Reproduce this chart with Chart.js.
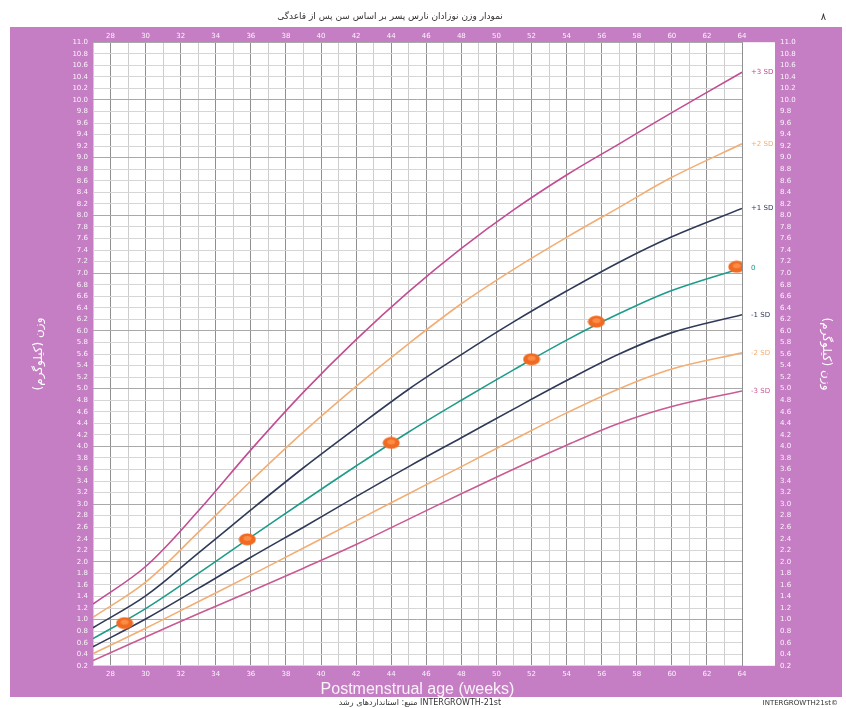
<!DOCTYPE html>
<html>
<head>
<meta charset="utf-8">
<script src="https://cdn.jsdelivr.net/npm/chart.js@4.4.1/dist/chart.umd.min.js"></script>
<style>
  html, body { margin: 0; padding: 0; background: #ffffff; }
  canvas { display: block; }
</style>
</head>
<body>
<canvas id="c" width="846" height="708"></canvas>
<script>
// ---- data (weeks of postmenstrual age, weight in kg) ----
const weeks     = [27, 30, 33, 36, 39, 42, 45, 48, 51, 54, 57, 60, 64];
const sdPlus3   = [1.27, 1.92, 2.88, 3.94, 4.94, 5.85, 6.68, 7.43, 8.10, 8.70, 9.24, 9.78, 10.48];
const sdPlus2   = [1.04, 1.65, 2.51, 3.40, 4.25, 5.04, 5.78, 6.47, 7.07, 7.62, 8.14, 8.66, 9.24];
const sdPlus1   = [0.86, 1.41, 2.15, 2.90, 3.63, 4.32, 4.99, 5.59, 6.16, 6.69, 7.19, 7.63, 8.12];
const sdZero    = [0.67, 1.19, 1.80, 2.43, 3.05, 3.66, 4.25, 4.80, 5.33, 5.84, 6.30, 6.70, 7.09];
const sdMinus1  = [0.53, 1.01, 1.54, 2.08, 2.60, 3.13, 3.65, 4.15, 4.65, 5.14, 5.60, 5.97, 6.28];
const sdMinus2  = [0.41, 0.85, 1.31, 1.77, 2.24, 2.71, 3.18, 3.65, 4.12, 4.58, 5.00, 5.34, 5.62];
const sdMinus3  = [0.29, 0.70, 1.10, 1.49, 1.89, 2.30, 2.74, 3.18, 3.61, 4.02, 4.40, 4.69, 4.96];
const curveLabels = ['+3 SD', '+2 SD', '+1 SD', '0', '-1 SD', '-2 SD', '-3 SD'];
const visitWeeks   = [28.8, 35.8, 44, 52, 55.7, 63.7];
const visitWeights = [0.94, 2.39, 4.06, 5.51, 6.16, 7.11];
const xTickLabelWeeks = [28, 30, 32, 34, 36, 38, 40, 42, 44, 46, 48, 50, 52, 54, 56, 58, 60, 62, 64];

const titleText  = 'نمودار وزن نوزادان نارس پسر بر اساس سن پس از قاعدگی';
const yTitleText = 'وزن (کیلوگرم)';
const xTitleText = 'Postmenstrual age (weeks)';
const footerText = 'منبع: استانداردهای رشد INTERGROWTH-21st';
const footerCode = 'INTERGROWTH21st©';
const pageNum    = '۸';

// ---- styling ----
const PURPLE = '#c57dc4';
const pairs = (ys) => weeks.map((w, i) => ({ x: w, y: ys[i] }));
const curveColors = ['#c24d93', '#f2ae74', '#2f3a58', '#1f9b8a', '#2f3a58', '#f2ae74', '#c95a93'];
const curveData = [sdPlus3, sdPlus2, sdPlus1, sdZero, sdMinus1, sdMinus2, sdMinus3];

// ellipse point marker
const dot = document.createElement('canvas');
dot.width = 18; dot.height = 13;
(function(){
  const g = dot.getContext('2d');
  g.fillStyle = '#f06a22';
  g.beginPath(); g.ellipse(9, 6.5, 8.5, 6, 0, 0, Math.PI * 2); g.fill();
  g.fillStyle = 'rgba(255,150,80,0.8)';
  g.beginPath(); g.ellipse(9, 5.5, 4, 2.5, 0, 0, Math.PI * 2); g.fill();
})();

const datasets = [{
  label: 'visits',
  data: visitWeeks.map((w, i) => ({ x: w, y: visitWeights[i] })),
  showLine: false,
  pointStyle: dot,
  pointRadius: 7,
  order: 0
}];
curveData.forEach((arr, i) => {
  datasets.push({
    label: curveLabels[i],
    data: pairs(arr),
    showLine: true,
    borderColor: curveColors[i],
    backgroundColor: curveColors[i],
    borderWidth: 1.6,
    pointRadius: 0,
    pointHoverRadius: 0,
    tension: 0.35,
    fill: false,
    order: 1,
    isCurve: true
  });
});

const frame = {
  id: 'frame',
  beforeDraw(chart) {
    const c = chart.ctx, a = chart.chartArea;
    c.save();
    c.fillStyle = '#ffffff';
    c.fillRect(0, 0, chart.width, chart.height);
    c.fillStyle = PURPLE;
    c.fillRect(10, 27, 832, 670);
    c.fillStyle = '#ffffff';
    c.fillRect(a.left, a.top, 775 - a.left, a.bottom - a.top);
    // header / footer texts
    c.fillStyle = '#333333';
    c.textBaseline = 'middle';
    c.textAlign = 'center';
    c.font = '9px "DejaVu Sans"';
    c.fillText(titleText, 390, 17);
    c.textAlign = 'right';
    c.font = '10px "DejaVu Sans"';
    c.fillText(pageNum, 826, 17);
    c.textAlign = 'center';
    c.font = '8px "DejaVu Sans"';
    c.fillText(footerText, 420, 703);
    c.textAlign = 'right';
    c.font = '7px "DejaVu Sans"';
    c.fillText(footerCode, 838, 703);
    c.restore();
  },
  afterDatasetsDraw(chart) {
    const c = chart.ctx;
    c.save();
    c.font = '7px "DejaVu Sans"';
    c.textAlign = 'left';
    c.textBaseline = 'middle';
    chart.data.datasets.forEach((ds, i) => {
      if (!ds.isCurve) return;
      const pts = chart.getDatasetMeta(i).data;
      const p = pts[pts.length - 1];
      c.fillStyle = ds.borderColor;
      c.fillText(ds.label, p.x + 9, p.y);
    });
    c.restore();
  }
};

const tickFont = { family: '"DejaVu Sans", sans-serif', size: 7 };
const tickColor = 'rgba(255,255,255,0.92)';
const xTickCb = (v) => xTickLabelWeeks.includes(v) ? String(v) : '';
const yTickCb = (v) => v.toFixed(1);

new Chart(document.getElementById('c'), {
  type: 'scatter',
  data: { datasets },
  plugins: [frame],
  options: {
    responsive: false,
    animation: false,
    devicePixelRatio: 1,
    layout: { padding: 0 },
    plugins: { legend: { display: false }, tooltip: { enabled: false }, title: { display: false } },
    scales: {
      x: {
        type: 'linear', position: 'bottom', min: 27, max: 64,
        afterFit(s) { s.height = 41; },
        border: { display: false },
        grid: {
          drawTicks: false,
          color: (ctx) => (ctx.tick && ctx.tick.value % 2 === 0) ? '#8f8f8f' : '#cdcdcd',
          lineWidth: 1
        },
        ticks: { stepSize: 1, autoSkip: false, maxRotation: 0, padding: 4, color: tickColor, font: tickFont, callback: xTickCb },
        title: { display: true, text: xTitleText, color: 'rgba(255,255,255,0.9)', font: { family: '"Liberation Sans", Arial, sans-serif', size: 16 }, padding: { top: 0, bottom: 8 } }
      },
      x2: {
        type: 'linear', position: 'top', min: 27, max: 64,
        afterFit(s) { s.height = 40; },
        border: { display: false },
        grid: { display: false, drawTicks: false },
        ticks: { stepSize: 1, autoSkip: false, maxRotation: 0, padding: 2, color: tickColor, font: tickFont, callback: xTickCb }
      },
      y: {
        type: 'linear', position: 'left', min: 0.2, max: 11.0,
        afterFit(s) { s.width = 93; },
        border: { display: false },
        grid: {
          drawTicks: false,
          color: (ctx) => {
            const v = ctx.tick ? ctx.tick.value : 0;
            return Math.abs(v - Math.round(v)) < 1e-6 ? '#a9a9a9' : '#d6d6d6';
          },
          lineWidth: 1
        },
        ticks: { stepSize: 0.2, autoSkip: false, padding: 5, color: tickColor, font: tickFont, callback: yTickCb },
        title: { display: true, text: yTitleText, color: '#ffffff', font: { family: '"DejaVu Sans", sans-serif', size: 12 }, padding: { top: 32, bottom: 0 } }
      },
      y2: {
        type: 'linear', position: 'right', min: 0.2, max: 11.0,
        afterFit(s) { s.width = 104; },
        border: { display: false },
        grid: { display: false, drawTicks: false },
        ticks: { stepSize: 0.2, autoSkip: false, padding: 38, color: tickColor, font: tickFont, callback: yTickCb },
        title: { display: true, text: yTitleText, color: '#ffffff', font: { family: '"DejaVu Sans", sans-serif', size: 12 }, padding: { top: 13, bottom: 0 } }
      }
    }
  }
});
</script>
</body>
</html>
